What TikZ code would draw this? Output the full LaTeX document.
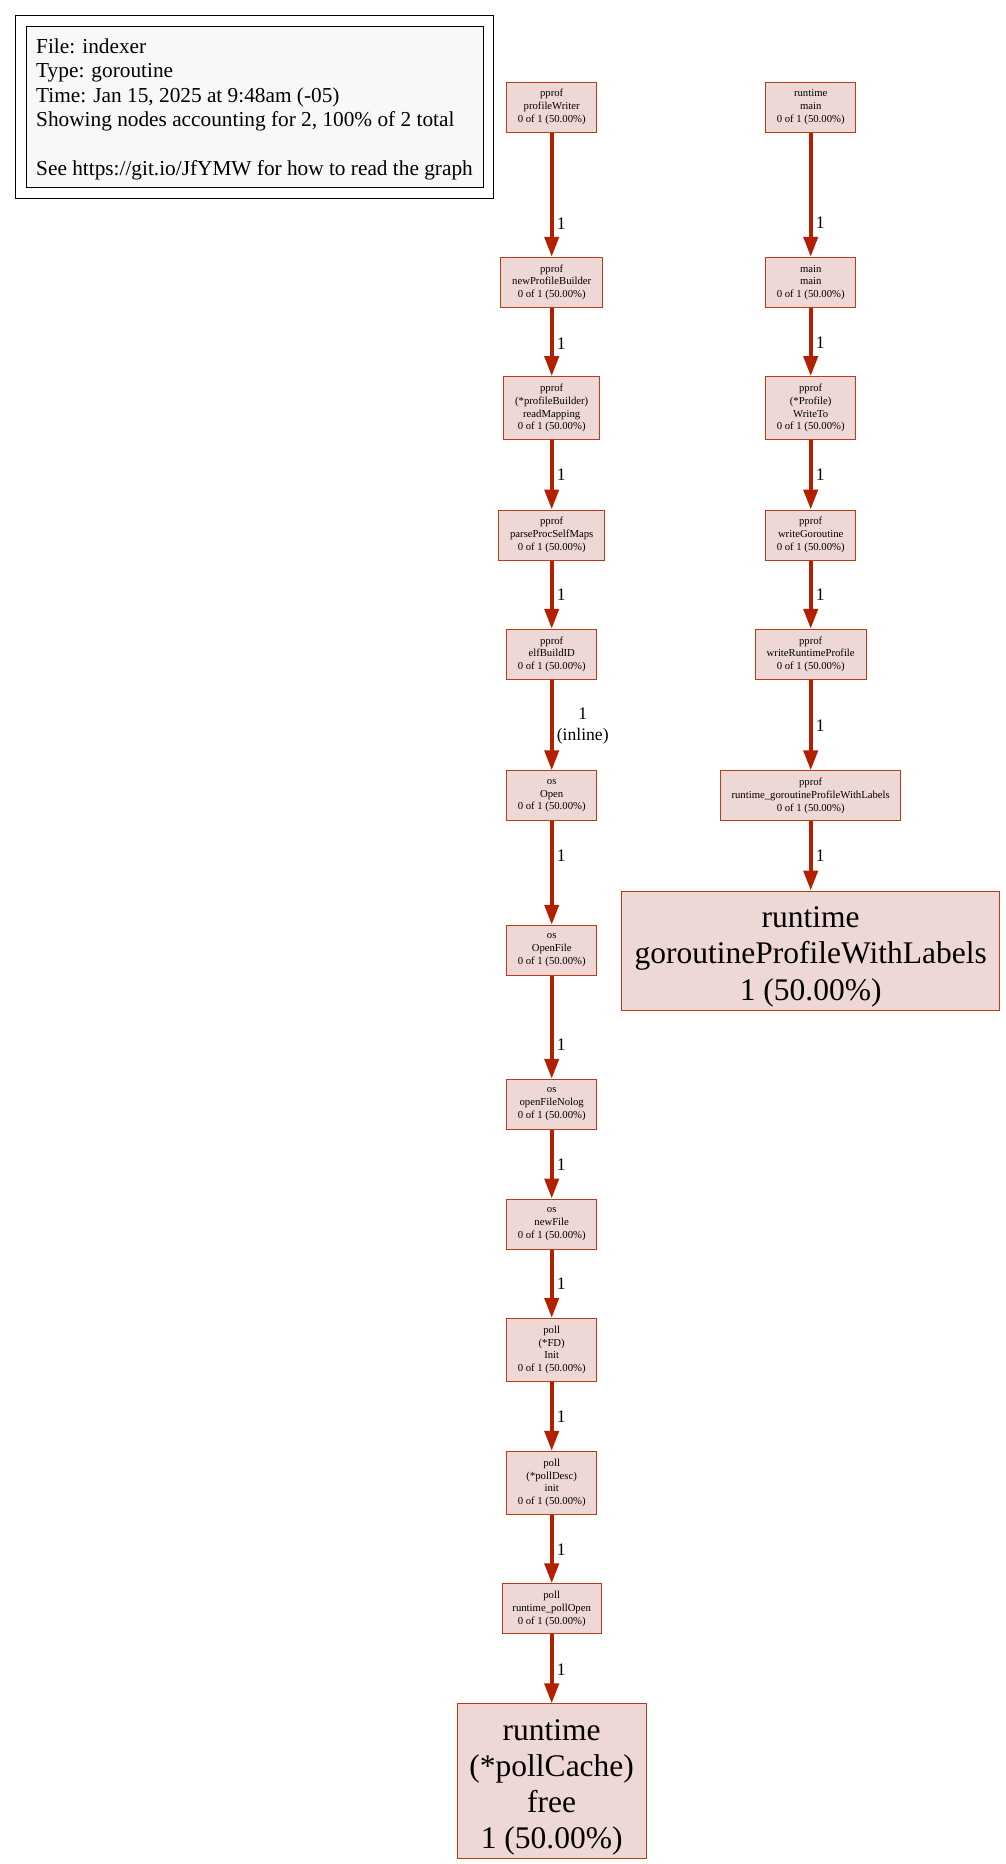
\documentclass[tikz,border=0pt]{standalone}
\usepackage{fontspec}
\setmainfont{Liberation Serif}
\usetikzlibrary{arrows.meta}
\definecolor{nodefill}{HTML}{EDD8D6}
\definecolor{nodeline}{HTML}{BC3A18}
\definecolor{edgecol}{HTML}{B22000}
\definecolor{legfill}{HTML}{F8F8F8}
\tikzset{
  fn/.style={draw=nodeline, fill=nodefill, line width=1pt, inner sep=0pt, align=center,
    font=\fontsize{10.7}{12.7}\selectfont, minimum width=90pt, minimum height=50pt},
  bign/.style={fn, font=\fontsize{31.5}{36.3}\selectfont},
  edge/.style={draw=edgecol, line width=4pt, -{Triangle[length=20pt,width=14pt]}},
  elabel/.style={inner sep=0pt, anchor=west, font=\fontsize{17.6}{21}\selectfont},
  legtext/.style={inner sep=0pt, anchor=base west, font=\fontsize{21.3}{24.5}\selectfont},
}
\begin{document}
\begin{tikzpicture}[x=1pt,y=-1pt]
\useasboundingbox (0,0) rectangle (1006,1864);
\fill[white] (0,0) rectangle (1006,1864);
% legend
\draw[black, line width=1pt] (15.7,15.7) rectangle (493.3,198.3);
\draw[black, line width=1pt, fill=legfill] (26,26) rectangle (483.3,187.3);
\node[legtext] (leg1) at (36,53.3) {File: indexer};
\node[legtext] (leg2) at (36,77.8) {Type: goroutine};
\node[legtext] (leg3) at (36,102.3) {Time: Jan 15, 2025 at 9:48am (-05)};
\node[legtext] (leg4) at (36,126.8) {Showing nodes accounting for 2, 100\% of 2 total};
\node[legtext] (leg5) at (36,175.8) {See https://git.io/JfYMW for how to read the graph};
% left column
\node[fn] (pw) at (551.7,107) {pprof\\profileWriter\\0 of 1 (50.00\%)};
\node[fn, minimum width=101.7pt] (npb) at (551.7,282.3) {pprof\\newProfileBuilder\\0 of 1 (50.00\%)};
\node[fn, minimum width=96pt, minimum height=63.3pt] (rm) at (551.7,408.3) {pprof\\(*profileBuilder)\\readMapping\\0 of 1 (50.00\%)};
\node[fn, minimum width=105.7pt] (ppsm) at (551.7,535) {pprof\\parseProcSelfMaps\\0 of 1 (50.00\%)};
\node[fn] (ebid) at (551.7,654.3) {pprof\\elfBuildID\\0 of 1 (50.00\%)};
\node[fn] (open) at (551.7,795.8) {os\\Open\\0 of 1 (50.00\%)};
\node[fn] (ofile) at (551.7,950.3) {os\\OpenFile\\0 of 1 (50.00\%)};
\node[fn] (ofnl) at (551.7,1104.3) {os\\openFileNolog\\0 of 1 (50.00\%)};
\node[fn] (nfile) at (551.7,1224) {os\\newFile\\0 of 1 (50.00\%)};
\node[fn, minimum height=63.3pt] (fdinit) at (551.7,1350) {poll\\(*FD)\\Init\\0 of 1 (50.00\%)};
\node[fn, minimum height=63.3pt] (pdinit) at (551.7,1483) {poll\\(*pollDesc)\\init\\0 of 1 (50.00\%)};
\node[fn, minimum width=99pt] (popen) at (551.7,1608.8) {poll\\runtime\_pollOpen\\0 of 1 (50.00\%)};
\node[bign, minimum width=189pt, minimum height=154.3pt] (pcache) at (551.7,1781.1) {\rule{0pt}{33.5pt}runtime\\(*pollCache)\\free\\1 (50.00\%)};
% right column
\node[fn] (rmain) at (810.7,107) {runtime\\main\\0 of 1 (50.00\%)};
\node[fn] (mmain) at (810.7,282.3) {main\\main\\0 of 1 (50.00\%)};
\node[fn, minimum height=63.3pt] (wto) at (810.7,408.3) {pprof\\(*Profile)\\WriteTo\\0 of 1 (50.00\%)};
\node[fn] (wgor) at (810.7,535) {pprof\\writeGoroutine\\0 of 1 (50.00\%)};
\node[fn, minimum width=111pt] (wrp) at (810.7,654.3) {pprof\\writeRuntimeProfile\\0 of 1 (50.00\%)};
\node[fn, minimum width=179.6pt] (rgpwl) at (810.7,795.8) {pprof\\runtime\_goroutineProfileWithLabels\\0 of 1 (50.00\%)};
\node[bign, minimum width=378.4pt, minimum height=119pt] (gpwl) at (810.7,950.5) {\rule{0pt}{33.5pt}runtime\\goroutineProfileWithLabels\\1 (50.00\%)};
% edges left
\draw[edge] (pw) -- (npb);
\draw[edge] (npb) -- (rm);
\draw[edge] (rm) -- (ppsm);
\draw[edge] (ppsm) -- (ebid);
\draw[edge] (ebid) -- (open);
\draw[edge] (open) -- (ofile);
\draw[edge] (ofile) -- (ofnl);
\draw[edge] (ofnl) -- (nfile);
\draw[edge] (nfile) -- (fdinit);
\draw[edge] (fdinit) -- (pdinit);
\draw[edge] (pdinit) -- (popen);
\draw[edge] (popen) -- (pcache);
% edges right
\draw[edge] (rmain) -- (mmain);
\draw[edge] (mmain) -- (wto);
\draw[edge] (wto) -- (wgor);
\draw[edge] (wgor) -- (wrp);
\draw[edge] (wrp) -- (rgpwl);
\draw[edge] (rgpwl) -- (gpwl);
% edge labels left
\node[elabel] (la1) at (556.7,223.3) {1};
\node[elabel] (la2) at (556.7,343.3) {1};
\node[elabel] (la3) at (556.7,475) {1};
\node[elabel] (la4) at (556.7,595) {1};
\node[elabel, anchor=center, align=center] (la5) at (582.7,726.2) {1\\(inline)};
\node[elabel] (la6) at (556.7,856) {1};
\node[elabel] (la7) at (556.7,1045) {1};
\node[elabel] (la8) at (556.7,1165) {1};
\node[elabel] (la9) at (556.7,1284) {1};
\node[elabel] (la10) at (556.7,1417) {1};
\node[elabel] (la11) at (556.7,1550) {1};
\node[elabel] (la12) at (556.7,1669.3) {1};
% edge labels right
\node[elabel] (lb1) at (815.7,222.5) {1};
\node[elabel] (lb2) at (815.7,342.5) {1};
\node[elabel] (lb3) at (815.7,474.5) {1};
\node[elabel] (lb4) at (815.7,594.5) {1};
\node[elabel] (lb5) at (815.7,725.5) {1};
\node[elabel] (lb6) at (815.7,856) {1};
\end{tikzpicture}
\end{document}
